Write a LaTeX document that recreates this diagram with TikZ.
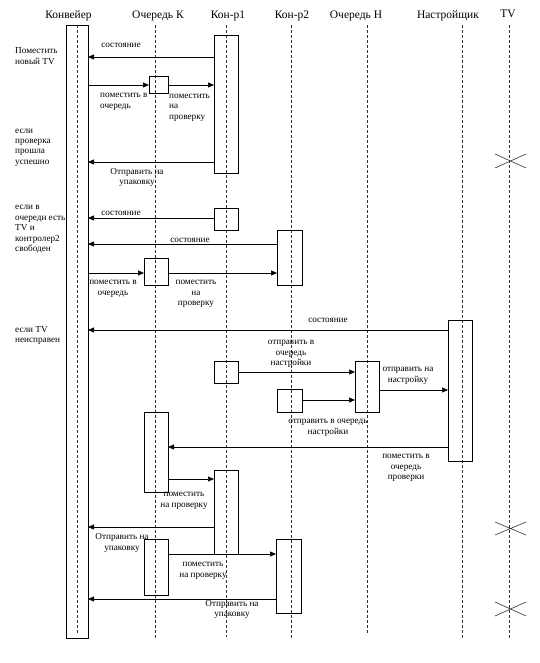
\documentclass[tikz,border=0pt]{standalone}
\usepackage{fontspec}
\setmainfont{Liberation Serif}
\usetikzlibrary{arrows.meta}
\tikzset{
  life/.style={draw=black!80, dash pattern=on 3pt off 2pt, line width=0.6pt},
  abox/.style={draw, rectangle, inner sep=0pt, outer sep=0pt, line width=0.6pt},
  msg/.style={draw, line width=0.6pt, -{Triangle[length=6pt,width=5pt]}},
  lbl/.style={font=\fontsize{9.2}{10.4}\selectfont, inner sep=0pt, align=center},
  note/.style={font=\fontsize{9.2}{10.4}\selectfont, inner sep=0pt, align=left, anchor=west},
  ttl/.style={font=\fontsize{11.5}{13}\selectfont, inner sep=0pt},
  kill/.style={draw=black!80, line width=0.6pt}
}
\begin{document}
\begin{tikzpicture}[x=1pt,y=-1pt]
\useasboundingbox (0,0) rectangle (540,663);
% titles
\node[ttl] (tconv) at (68.5,16) {Конвейер};
\node[ttl] (tqk) at (158,16) {Очередь К};
\node[ttl] (tk1) at (228,16) {Кон-р1};
\node[ttl] (tk2) at (292,16) {Кон-р2};
\node[ttl] (tqn) at (356,16) {Очередь Н};
\node[ttl] (tnas) at (448,16) {Настройщик};
\node[ttl] (ttv) at (508,14) {TV};
% lifelines
\draw[life] (77,25) -- (77,634);
\draw[life] (155,25) -- (155,638);
\draw[life] (226,25) -- (226,637);
\draw[life] (291,25) -- (291,638);
\draw[life] (367,25) -- (367,634);
\draw[life] (462,25) -- (462,639);
\draw[life] (509,25) -- (509,639);
% activation boxes
\node[abox, minimum width=22pt, minimum height=613pt] (conv) at (77,331.5) {};
\node[abox, minimum width=24pt, minimum height=138pt] (k1a) at (226,104) {};
\node[abox, minimum width=19pt, minimum height=17pt] (qk1) at (158.5,84.5) {};
\node[abox, minimum width=24pt, minimum height=22pt] (k1b) at (226,219) {};
\node[abox, minimum width=25pt, minimum height=55pt] (k2a) at (289.5,257.5) {};
\node[abox, minimum width=24pt, minimum height=27pt] (qk2) at (156,271.5) {};
\node[abox, minimum width=24pt, minimum height=141pt] (nas) at (460,390.5) {};
\node[abox, minimum width=24pt, minimum height=22pt] (k1c) at (226,372) {};
\node[abox, minimum width=25pt, minimum height=23pt] (k2b) at (289.5,400.5) {};
\node[abox, minimum width=24pt, minimum height=51pt] (qn) at (367,386.5) {};
\node[abox, minimum width=24pt, minimum height=80pt] (qk3) at (156,452) {};
\node[abox, minimum width=24pt, minimum height=84pt] (k1d) at (226,512) {};
\node[abox, minimum width=24pt, minimum height=56pt] (qk4) at (156,567) {};
\node[abox, minimum width=25pt, minimum height=74pt] (k2c) at (288.5,576) {};
% messages
\draw[msg] (k1a.west |- 0,57) -- (conv.east |- 0,57);
\draw[msg] (conv.east |- 0,85) -- (qk1.west |- 0,85);
\draw[msg] (qk1.east |- 0,85) -- (k1a.west |- 0,85);
\draw[msg] (k1a.west |- 0,162) -- (conv.east |- 0,162);
\draw[msg] (k1b.west |- 0,218) -- (conv.east |- 0,218);
\draw[msg] (k2a.west |- 0,244) -- (conv.east |- 0,244);
\draw[msg] (conv.east |- 0,273) -- (qk2.west |- 0,273);
\draw[msg] (qk2.east |- 0,273) -- (k2a.west |- 0,273);
\draw[msg] (nas.west |- 0,330) -- (conv.east |- 0,330);
\draw[msg] (k1c.east |- 0,372) -- (qn.west |- 0,372);
\draw[msg] (k2b.east |- 0,400) -- (qn.west |- 0,400);
\draw[msg] (qn.east |- 0,390) -- (nas.west |- 0,390);
\draw[msg] (nas.west |- 0,447) -- (qk3.east |- 0,447);
\draw[msg] (qk3.east |- 0,479) -- (k1d.west |- 0,479);
\draw[msg] (k1d.west |- 0,527) -- (conv.east |- 0,527);
\draw[msg] (qk4.east |- 0,554) -- (k2c.west |- 0,554);
\draw[msg] (k2c.west |- 0,599) -- (conv.east |- 0,599);
% message labels
\node[lbl] (l1) at (121,45) {состояние};
\node[lbl, align=left, anchor=west] (l2) at (100,102) {поместить в\\очередь};
\node[lbl, align=left, anchor=west] (l3) at (169,107.5) {поместить\\на\\проверку};
\node[lbl] (l4) at (137,177.5) {Отправить на\\упаковку};
\node[lbl] (l5) at (121,213) {состояние};
\node[lbl] (l6) at (190,240) {состояние};
\node[lbl] (l7) at (113,289) {поместить в\\очередь};
\node[lbl] (l8) at (196,294) {поместить\\на\\проверку};
\node[lbl] (l9) at (328,320) {состояние};
\node[lbl] (l10) at (291,354) {отправить в\\очередь\\настройки};
\node[lbl] (l11) at (328,428) {отправить в очередь\\настройки};
\node[lbl] (l12) at (408,376) {отправить на\\настройку};
\node[lbl] (l13) at (406,468) {поместить в\\очередь\\проверки};
\node[lbl] (l14) at (184,501) {поместить\\на проверку};
\node[lbl] (l15) at (122,543) {Отправить на\\упаковку};
\node[lbl] (l16) at (203,571) {поместить\\на проверку};
\node[lbl] (l17) at (232,609.5) {Отправить на\\упаковку};
% notes
\node[note] (n1) at (15,56) {Поместить\\новый TV};
\node[note] (n2) at (15,147.5) {если\\проверка\\прошла\\успешно};
\node[note] (n3) at (15,229.5) {если в\\очереди есть\\TV и\\контролер2\\свободен};
\node[note] (n4) at (15,335.5) {если TV\\неисправен};
% destruction marks on TV lifeline
\draw[kill] (495,154) -- (526,168) (495,168) -- (526,154);
\draw[kill] (495,522) -- (526,535) (495,535) -- (526,522);
\draw[kill] (495,602) -- (526,616) (495,616) -- (526,602);
\end{tikzpicture}
\end{document}
